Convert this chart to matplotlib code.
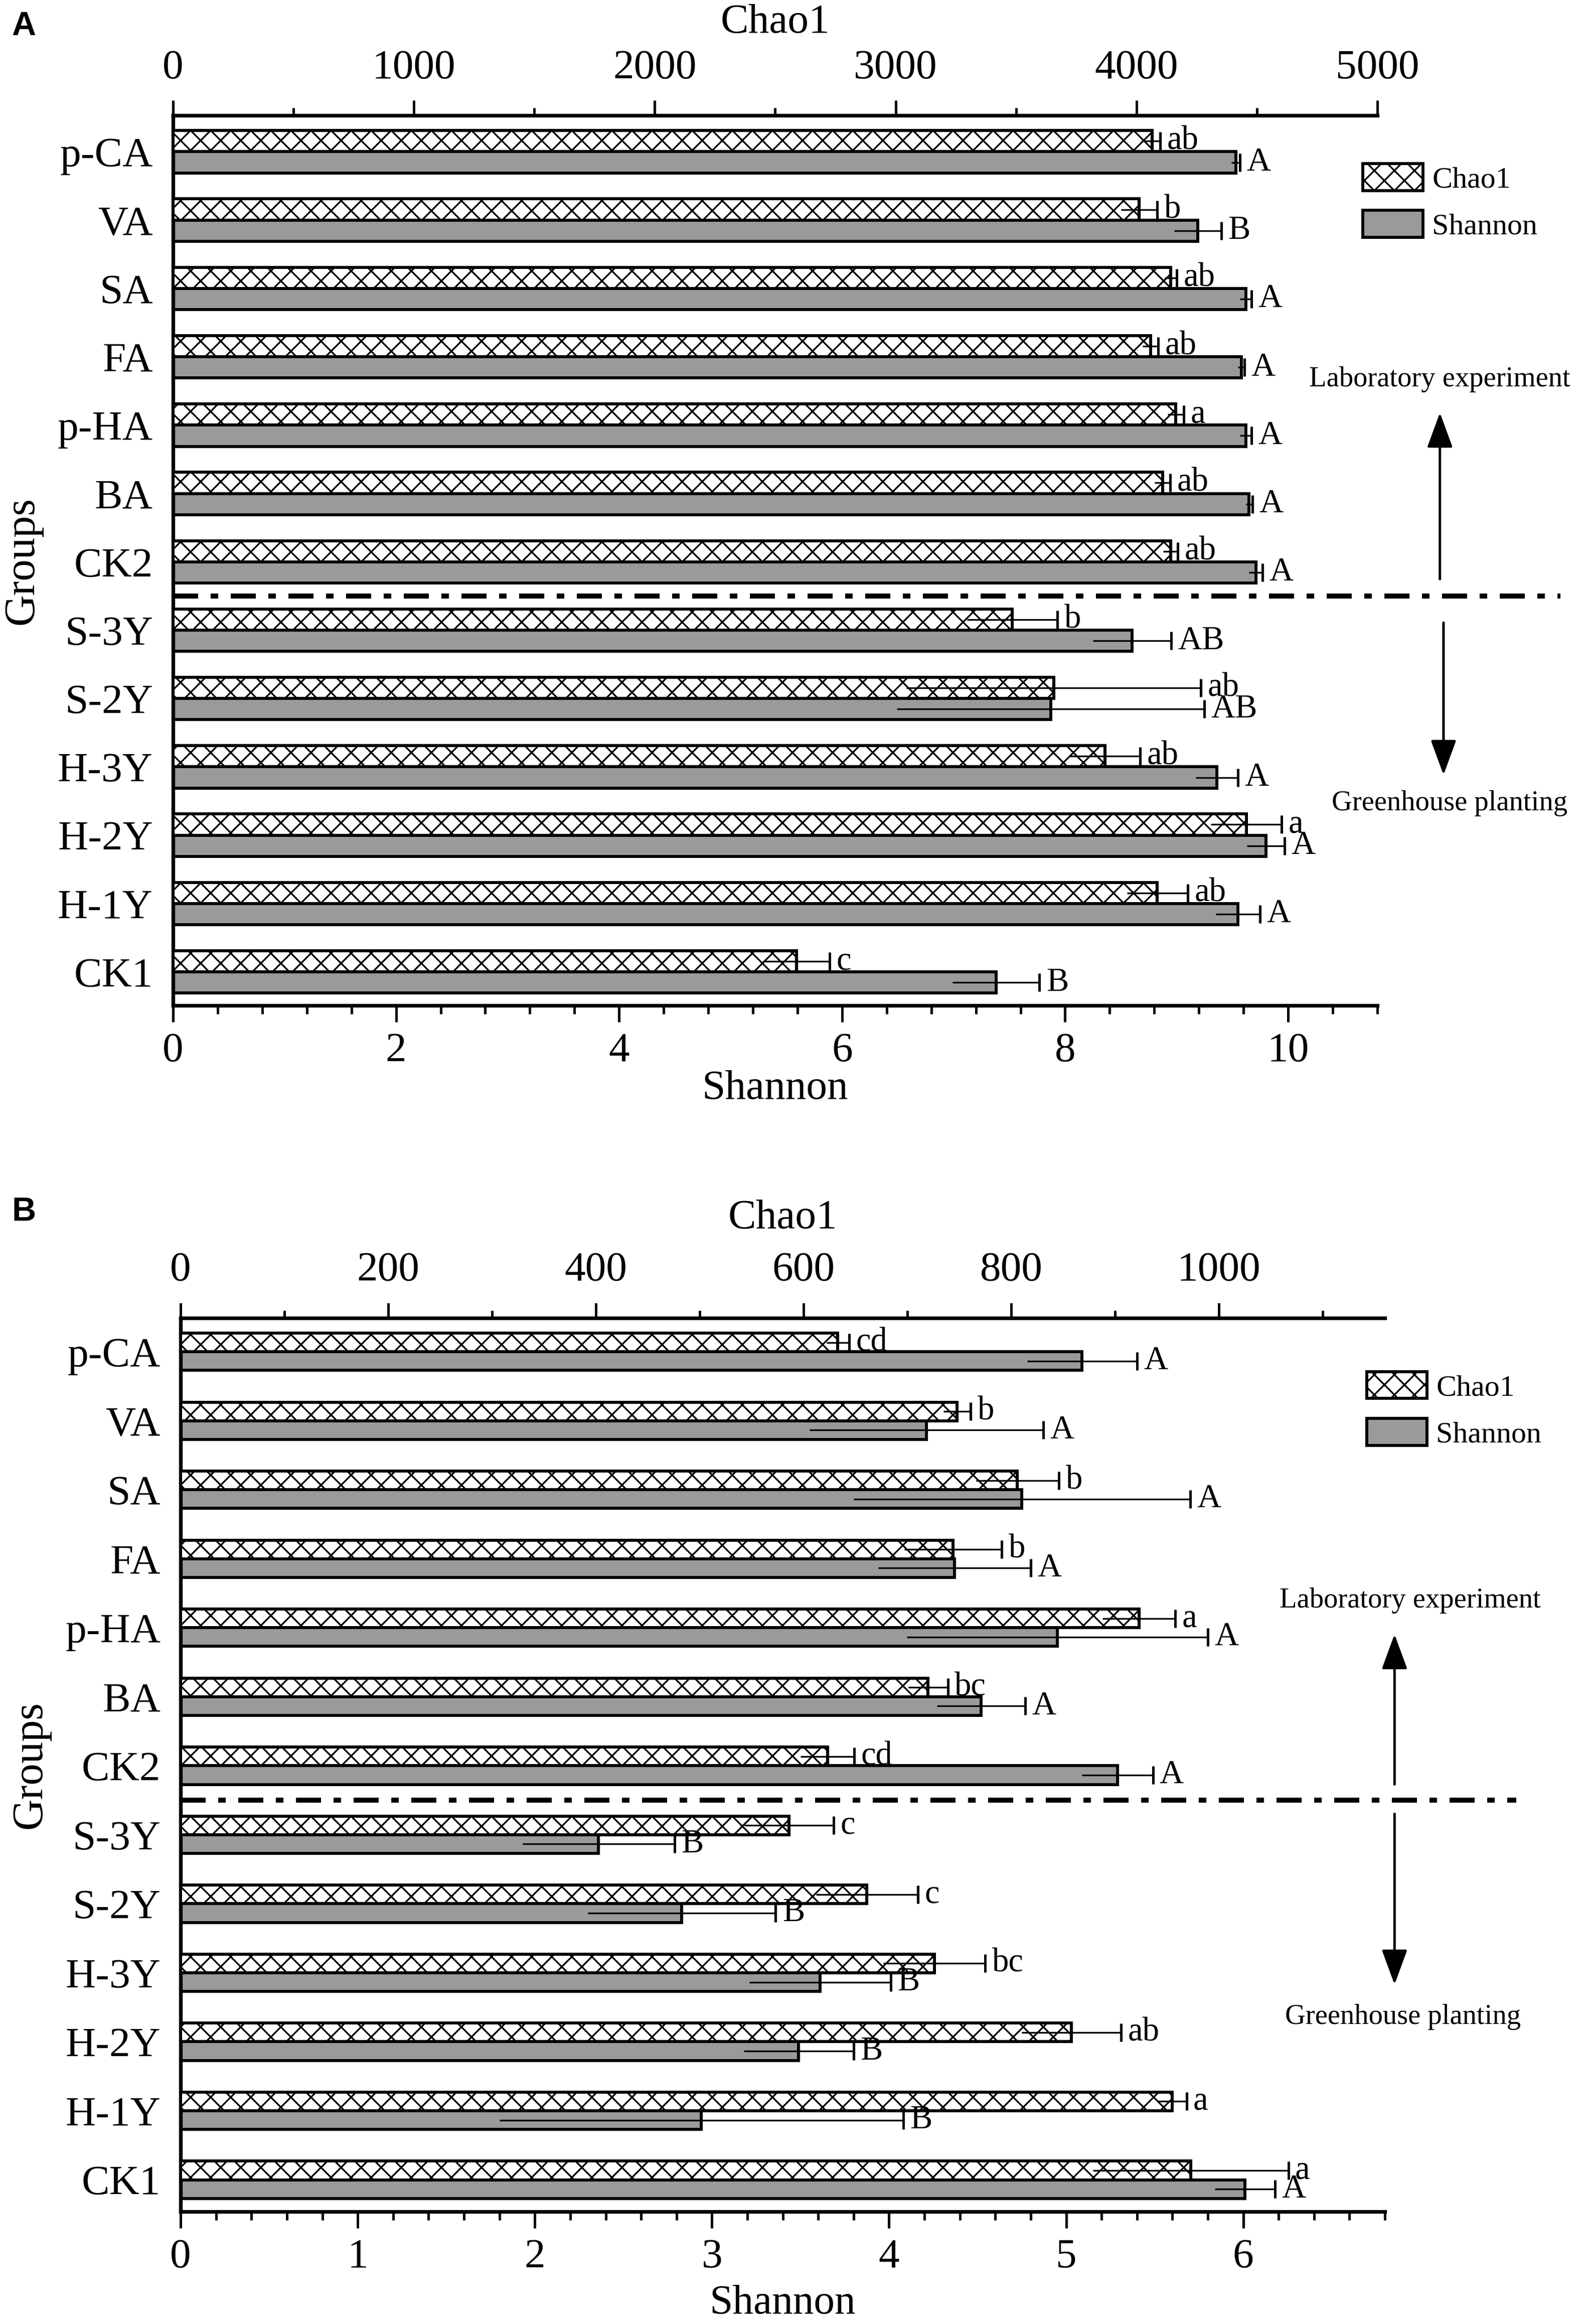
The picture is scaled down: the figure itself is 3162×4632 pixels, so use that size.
import numpy as np
import matplotlib.pyplot as plt
from matplotlib.ticker import MultipleLocator

plt.rcParams['font.family'] = ['Liberation Serif', 'DejaVu Serif']
plt.rcParams['hatch.linewidth'] = 1.0

groups = ['p-CA', 'VA', 'SA', 'FA', 'p-HA', 'BA', 'CK2',
          'S-3Y', 'S-2Y', 'H-3Y', 'H-2Y', 'H-1Y', 'CK1']
n_lab = 7  # first 7 groups = laboratory experiment

# panel A
a_chao1 = [4066, 4012, 4142, 4058, 4163, 4108, 4142, 3484, 3656, 3869, 4456, 4087, 2588]
a_chao1_err = [33, 75, 25, 33, 33, 33, 30, 188, 611, 147, 147, 126, 138]
a_chao1_let = ['ab', 'b', 'ab', 'ab', 'a', 'ab', 'ab', 'b', 'ab', 'ab', 'a', 'ab', 'c']
a_shannon = [9.53, 9.19, 9.62, 9.58, 9.62, 9.65, 9.71, 8.60, 7.87, 9.36, 9.80, 9.55, 7.38]
a_shannon_err = [0.04, 0.21, 0.05, 0.03, 0.05, 0.03, 0.06, 0.35, 1.38, 0.19, 0.17, 0.20, 0.39]
a_shannon_let = ['A', 'B', 'A', 'A', 'A', 'A', 'A', 'AB', 'AB', 'A', 'A', 'A', 'B']

# panel B
b_chao1 = [633, 748, 806, 744, 923, 720, 623, 586, 661, 726, 858, 955, 973]
b_chao1_err = [11, 13, 40, 47, 35, 19, 26, 43, 49, 49, 48, 14, 94]
b_chao1_let = ['cd', 'b', 'b', 'b', 'a', 'bc', 'cd', 'c', 'c', 'bc', 'ab', 'a', 'a']
b_shannon = [5.09, 4.21, 4.75, 4.37, 4.95, 4.52, 5.29, 2.36, 2.83, 3.61, 3.49, 2.94, 6.01]
b_shannon_err = [0.31, 0.66, 0.95, 0.43, 0.85, 0.25, 0.20, 0.43, 0.53, 0.40, 0.31, 1.14, 0.17]
b_shannon_let = ['A', 'A', 'A', 'A', 'A', 'A', 'A', 'B', 'B', 'B', 'B', 'B', 'A']

layout_a = dict(rect=[0.1091, 0.5674, 0.7593, 0.3829], ylim=(12.49, -0.53), bar_h=0.31,
                chao_lim=5000, chao_major=1000, chao_minor=500,
                sh_lim=10.8, sh_major=2, sh_minor=0.4,
                chao_pad=10, sh_pad=0,
                legend=(0.988, 0.946), sep_end=1.152,
                lab_txt=(1.052, 0.7035), up=(1.052, 0.479, 0.666),
                down=(1.055, 0.430, 0.259), gh_txt=(1.060, 0.227))
layout_b = dict(rect=[0.1139, 0.0484, 0.7593, 0.3845], ylim=(12.46, -0.49), bar_h=0.27,
                chao_lim=1160, chao_major=200, chao_minor=100,
                sh_lim=6.8, sh_major=1, sh_minor=0.2,
                chao_pad=14, sh_pad=5,
                legend=(0.985, 0.940), sep_end=1.109,
                lab_txt=(1.021, 0.684), up=(1.008, 0.478, 0.646),
                down=(1.008, 0.445, 0.254), gh_txt=(1.015, 0.218))


def draw_panel(fig, lay, chao1, chao1_err, chao1_let, shannon, shannon_err, shannon_let):
    ax = fig.add_axes(lay['rect'])
    axt = ax.twiny()
    y = np.arange(len(groups))
    h = lay['bar_h']

    hs = ax.barh(y + h / 2, shannon, height=h, color='#9a9a9a', edgecolor='k',
                 linewidth=1.8, label='Shannon')
    hc = axt.barh(y - h / 2, chao1, height=h, color='white', edgecolor='k',
                  hatch='xx', linewidth=1.8, label='Chao1')

    # error bars: line both ways, cap only on the right
    ax.errorbar(shannon, y + h / 2, xerr=shannon_err, fmt='none', ecolor='k',
                elinewidth=1.0, capsize=0)
    ax.plot(np.add(shannon, shannon_err), y + h / 2, ls='none', marker='|',
            ms=11, mew=1.5, color='k')
    axt.errorbar(chao1, y - h / 2, xerr=chao1_err, fmt='none', ecolor='k',
                 elinewidth=1.0, capsize=0)
    axt.plot(np.add(chao1, chao1_err), y - h / 2, ls='none', marker='|',
             ms=11, mew=1.5, color='k')

    for i in range(len(groups)):
        axt.annotate(chao1_let[i], (chao1[i] + chao1_err[i], y[i] - h / 2),
                     xytext=(4, 0), textcoords='offset points',
                     va='center', ha='left', fontsize=20)
        axt.annotate(shannon_let[i], (shannon[i] + shannon_err[i], y[i] + h / 2),
                     xycoords=ax.transData, xytext=(4, 0), textcoords='offset points',
                     va='center', ha='left', fontsize=20)

    ax.set_ylim(*lay['ylim'])
    ax.set_yticks(y)
    ax.set_yticklabels(groups)
    ax.set_xlim(0, lay['sh_lim'])
    axt.set_xlim(0, lay['chao_lim'])
    ax.xaxis.set_major_locator(MultipleLocator(lay['sh_major']))
    ax.xaxis.set_minor_locator(MultipleLocator(lay['sh_minor']))
    axt.xaxis.set_major_locator(MultipleLocator(lay['chao_major']))
    axt.xaxis.set_minor_locator(MultipleLocator(lay['chao_minor']))

    for s in ['top', 'right']:
        ax.spines[s].set_visible(False)
    for s in ['bottom', 'left', 'right']:
        axt.spines[s].set_visible(False)
    ax.spines['left'].set_linewidth(2.2)
    ax.spines['bottom'].set_linewidth(2.2)
    axt.spines['top'].set_linewidth(2.2)

    ax.tick_params(axis='x', which='major', direction='out', length=10, width=1.5,
                   pad=6, labelsize=25)
    ax.tick_params(axis='x', which='minor', direction='out', length=5, width=1.5)
    ax.tick_params(axis='y', length=0, pad=12, labelsize=25)
    axt.tick_params(axis='x', which='major', direction='out', length=9, width=1.5,
                    pad=8, labelsize=25)
    axt.tick_params(axis='x', which='minor', direction='out', length=4.5, width=1.5)

    axt.set_xlabel('Chao1', fontsize=25, labelpad=lay['chao_pad'])
    ax.set_xlabel('Shannon', fontsize=25, labelpad=lay['sh_pad'])
    ax.set_ylabel('Groups', fontsize=26, labelpad=9)

    axt.legend(handles=[hc, hs], labels=['Chao1', 'Shannon'], loc='upper left',
               bbox_to_anchor=lay['legend'], frameon=False, fontsize=18,
               handlelength=2.0, handleheight=1.0, handletextpad=0.3,
               labelspacing=0.55, borderpad=0, borderaxespad=0)

    # separator between laboratory and greenhouse groups
    ax.plot([0, lay['sep_end']], [n_lab - 0.5, n_lab - 0.5], color='k', lw=3,
            ls=(0, (5, 2.5, 1.5, 2.5)), transform=ax.get_yaxis_transform(),
            clip_on=False)

    ax.text(*lay['lab_txt'], 'Laboratory experiment', transform=ax.transAxes,
            ha='center', va='center', fontsize=17)
    ax.text(*lay['gh_txt'], 'Greenhouse planting', transform=ax.transAxes,
            ha='center', va='center', fontsize=17)
    arrow = dict(arrowstyle='-|>,head_length=0.6,head_width=0.22', color='k', lw=1.5,
                 mutation_scale=30, shrinkA=0, shrinkB=0)
    ux, ut, uh = lay['up']
    dx, dt, dh = lay['down']
    ax.annotate('', xy=(ux, uh), xytext=(ux, ut), xycoords='axes fraction',
                arrowprops=arrow, annotation_clip=False)
    ax.annotate('', xy=(dx, dh), xytext=(dx, dt), xycoords='axes fraction',
                arrowprops=arrow, annotation_clip=False)
    return ax


fig = plt.figure(figsize=(3162 / 240, 4632 / 240))
draw_panel(fig, layout_a, a_chao1, a_chao1_err, a_chao1_let,
           a_shannon, a_shannon_err, a_shannon_let)
draw_panel(fig, layout_b, b_chao1, b_chao1_err, b_chao1_let,
           b_shannon, b_shannon_err, b_shannon_let)

fig.text(0.0149, 0.9886, 'A', fontsize=20, fontweight='bold',
         family=['Liberation Sans', 'DejaVu Sans'], ha='center', va='center')
fig.text(0.0149, 0.4784, 'B', fontsize=20, fontweight='bold',
         family=['Liberation Sans', 'DejaVu Sans'], ha='center', va='center')

fig.savefig('out.png', dpi=240)
